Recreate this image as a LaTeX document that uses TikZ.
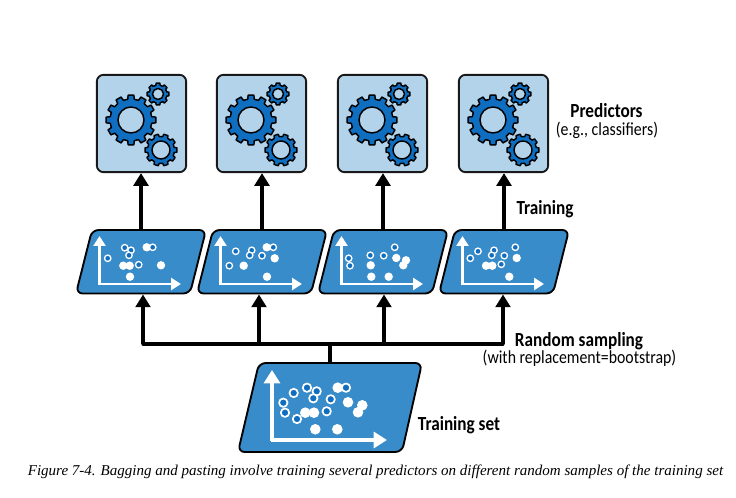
\documentclass[tikz,border=0pt]{standalone}
\usepackage{fontspec}
\setmainfont[FakeStretch=0.86]{Carlito}
\newfontfamily\captionfont{Liberation Serif}
\usetikzlibrary{arrows.meta}

\definecolor{boxblue}{HTML}{B3D3EA}
\definecolor{panelblue}{HTML}{388CC9}
\definecolor{gearblue}{HTML}{0F6EBF}

% cx, cy, outer radius, root radius, hole radius, teeth
\newcommand{\drawgear}[6]{
    \pgfmathsetmacro{\pitch}{360/#6}
    \draw[gearpart, shift={(#1,#2)}] (-0.3*\pitch:#4)
        \foreach \i in {1,...,#6} {
            -- (\i*\pitch-\pitch-0.22*\pitch:#3) -- (\i*\pitch-\pitch+0.22*\pitch:#3)
            -- (\i*\pitch-\pitch+0.3*\pitch:#4) -- (\i*\pitch-0.3*\pitch:#4)
        } -- cycle (0,0) circle[radius=#5];
}

\begin{document}
\begin{tikzpicture}[
    x = 0.75pt, y = -0.75pt,
    line join=round,
    predbox/.style = {draw=black!90, fill=boxblue, line width=1.4pt, rounded corners=5pt,
        minimum width=67pt, minimum height=73pt, inner sep=0pt},
    panel/.style = {draw=black, fill=panelblue, line width=1.4pt, rounded corners=5pt},
    gearpart/.style = {draw=black, fill=gearblue, line width=1.1pt, even odd rule},
    axis/.style = {white, line width=1.9pt, -{Triangle[length=7.5pt, width=9pt]}},
    axisbig/.style = {white, line width=2.3pt, -{Triangle[length=10pt, width=12pt]}},
    flow/.style = {black, line width=2.5pt, -{Triangle[length=9.5pt, width=11pt]}},
    bus/.style = {black, line width=2.5pt},
    dot/.style = {fill=white},
    ring/.style = {draw=white, fill=gearblue, line width=1pt},
    ringbig/.style = {draw=white, fill=gearblue, line width=1.3pt},
    headtext/.style = {inner sep=0pt, font=\fontsize{15}{17}\selectfont\bfseries},
    subtext/.style = {inner sep=0pt, font=\fontsize{13.8}{15}\selectfont}
]

\useasboundingbox (0,0) rectangle (736,498);

% predictors
\foreach \n/\dx in {1/0, 2/120, 3/241, 4/362} {
    \node[predbox] (pred\n) at (141.5+\dx,123.5) {};
    \drawgear{131+\dx}{120}{25}{21}{13}{12}
    \drawgear{158+\dx}{94}{11}{9}{5.5}{8}
    \drawgear{161+\dx}{150}{16}{13.5}{9}{10}
}

% samples
\foreach \n/\dx in {1/0, 2/121, 3/242, 4/363} {
    \draw[panel] (76+\dx,293.5) -- (92+\dx,230) -- (206+\dx,230) -- (190+\dx,293.5) -- cycle;
    \coordinate (top\n) at (141+\dx,230);
    \coordinate (bottom\n) at (141+\dx,294.5);
    \draw[axis] (99.5+\dx,285) -- (99.5+\dx,236);
    \draw[axis] (98.5+\dx,284) -- (181+\dx,284);
}

\foreach \x/\y in {146.7/247.3, 123.3/265.7, 129.7/265.7, 161/265.3, 130/276.7,
    266.7/247.3, 243.7/265.7, 274.7/258.3, 267/276.7,
    396.3/258, 370.7/265.3, 406/260.3, 403.3/265.3, 371.3/276.7, 388.7/276.7,
    516.7/258, 486/265.7, 492.3/265.7, 509.3/276.7}
    \fill[dot] (\x,\y) circle[radius=4.2];

\foreach \x/\y in {107.7/258.3, 124.7/247.7, 131/250.3, 129/255.3, 152.7/247.3, 138.7/264.7,
    235.7/251.3, 251.7/250.3, 249.7/255.3, 262/255.7, 273.3/247.3, 229.3/265.7,
    348.7/258.3, 350/265.7, 370.3/255.3, 383.7/255.7, 394.7/247.3,
    478/251.3, 470.3/258.3, 494/250.3, 491.7/255.3, 504.3/255.7, 515.3/247.3, 501.3/264.3}
    \draw[ring] (\x,\y) circle[radius=3.2];

% training set
\draw[panel] (238,452) -- (259,363) -- (422,363) -- (402,452) -- cycle;
\coordinate (settop) at (330,363);
\draw[axisbig] (272,441.5) -- (272,370);
\draw[axisbig] (270.5,440) -- (387,440);

\foreach \x/\y in {337.7/387.7, 348/402.3, 362.3/405.3, 358/412.3, 305.3/412.7, 314/412.7,
    315.3/429.3, 337.3/429.3}
    \fill[dot] (\x,\y) circle[radius=5.3];

\foreach \x/\y in {293.7/393, 307/387.7, 316.7/391.3, 313.3/398.3, 283.3/402.7, 285/412.7,
    297/419, 330.7/399.3, 326.7/411.3, 346/387.7}
    \draw[ringbig] (\x,\y) circle[radius=4.2];

% connectors
\foreach \n in {1,...,4}
    \draw[flow] (top\n) -- (pred\n.south -| top\n);

\coordinate (bus1) at (143,344);
\coordinate (bus2) at (259,344);
\coordinate (bus3) at (384,344);
\coordinate (bus4) at (503,344);
\coordinate (hub) at (330,344);

\draw[bus, line cap=round] (bus1) -- (bus4);
\draw[bus] (settop) -- (hub);
\foreach \n in {1,...,4}
    \draw[flow] (bus\n) -- (bus\n |- bottom\n);

% text
\node[headtext] (predlabel) at (606.5,111) {Predictors};
\node[subtext] (predsub) at (607,130) {(e.g., classifiers)};
\node[headtext] (trainlabel) at (545,209) {Training};
\node[headtext] (samplelabel) at (579,341) {Random sampling};
\node[subtext] (samplesub) at (579.5,358.5) {(with replacement=bootstrap)};
\node[headtext] (setlabel) at (459,425) {Training set};
\node[inner sep=0pt, font=\captionfont\itshape\fontsize{11.27}{13}\selectfont] (caption) at (375.5,471.5)
    {Figure 7-4. Bagging and pasting involve training several predictors on different random samples of the training set};

\end{tikzpicture}
\end{document}
